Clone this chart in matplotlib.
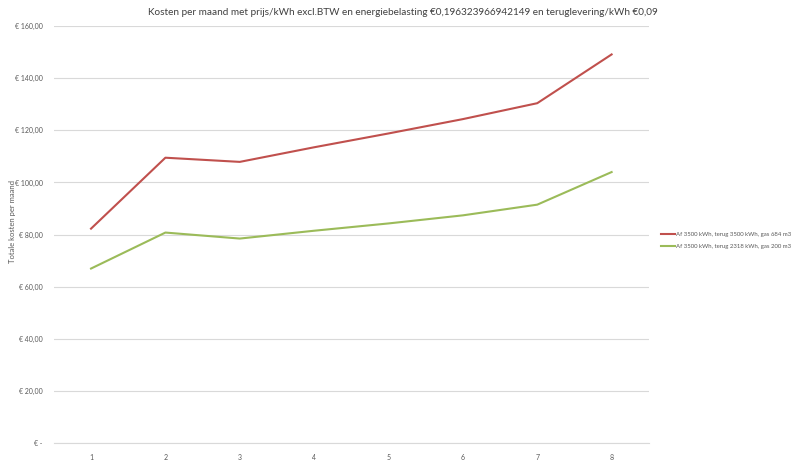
import matplotlib.pyplot as plt
from matplotlib.ticker import FuncFormatter

maanden = [1, 2, 3, 4, 5, 6, 7, 8]
kosten_terug_3500 = [82.3, 109.5, 107.9, 113.5, 118.8, 124.3, 130.4, 149.1]
kosten_terug_2318 = [67.0, 80.8, 78.5, 81.5, 84.3, 87.4, 91.5, 104.0]
labels = ["Af 3500 kWh, terug 3500 kWh, gas 684 m3",
          "Af 3500 kWh, terug 2318 kWh, gas 200 m3"]
titel = ("Kosten per maand met prijs/kWh excl.BTW en energiebelasting "
         "€0,196323966942149 en teruglevering/kWh €0,09")

plt.rcParams['font.family'] = ['Lato', 'DejaVu Sans']
grijs = '#595959'


def euro(v, pos):
    # Excel accounting stijl
    if abs(v) < 1e-9:
        return '€ -'
    return '€ ' + f'{v:.2f}'.replace('.', ',')


fig = plt.figure(figsize=(8, 4.61), dpi=100)
ax = fig.add_axes([0.0673, 0.0384, 0.7437, 0.9052])

ax.plot(maanden, kosten_terug_3500, color='#C0504D', lw=1.5, label=labels[0])
ax.plot(maanden, kosten_terug_2318, color='#9BBB59', lw=1.5, label=labels[1])

ax.set_xlim(0.5, 8.5)
ax.set_ylim(0, 160)
ax.set_yticks(range(0, 161, 20))
ax.set_xticks(maanden)
ax.yaxis.set_major_formatter(FuncFormatter(euro))
ax.grid(axis='y', color='#d9d9d9', lw=0.8)
ax.set_axisbelow(True)
for s in ['top', 'right', 'left']:
    ax.spines[s].set_visible(False)
ax.spines['bottom'].set_color('#d9d9d9')
ax.tick_params(length=0, labelsize=5, colors=grijs, pad=8)

fig.text(0.016, 0.52, 'Totale kosten per maand', rotation=90, fontsize=5.5,
         color=grijs, ha='center', va='center')
fig.text(0.504, 0.972, titel, fontsize=7.2, color='#404040', ha='center', va='center')

fig.legend(loc='center left', bbox_to_anchor=(0.826, 0.479), frameon=False,
           fontsize=4.3, labelcolor=grijs, handlelength=2.3, handletextpad=0.2,
           labelspacing=1.1, borderpad=0, borderaxespad=0)

fig.savefig('out.png', dpi=100)
